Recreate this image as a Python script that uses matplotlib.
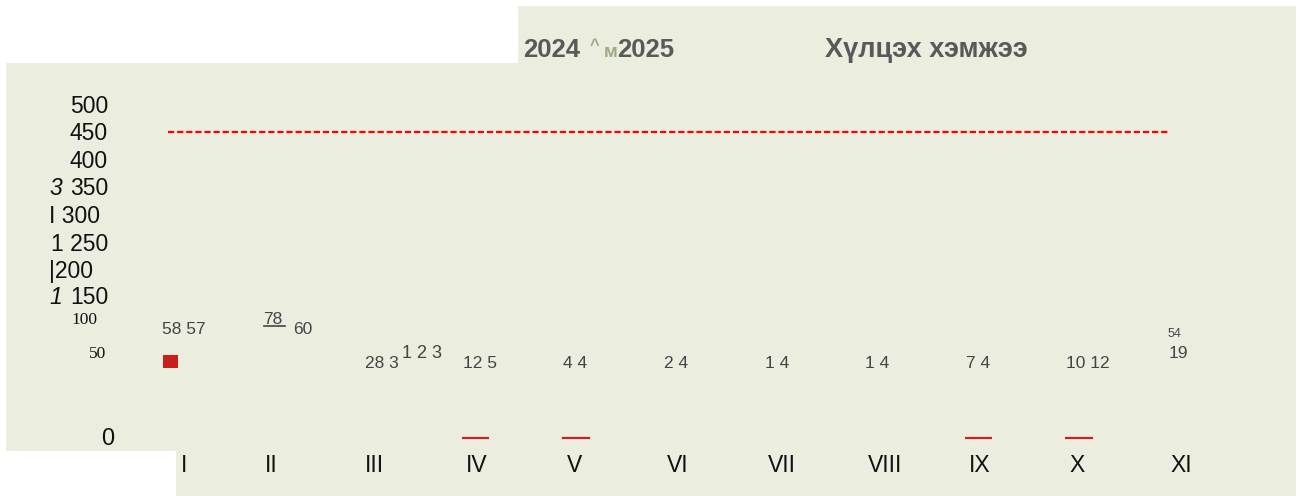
import matplotlib
matplotlib.use("Agg")
import matplotlib.pyplot as plt
from matplotlib.transforms import Affine2D, blended_transform_factory
from matplotlib.patches import Polygon, Rectangle
from matplotlib.lines import Line2D

# ---------------- data ----------------
months = ['I', 'II', 'III', 'IV', 'V', 'VI', 'VII', 'VIII', 'IX', 'X', 'XI']
val_2024 = [58, 78, 28, 12, 4, 2, 1, 1, 7, 10, 54]
val_2025 = [57, 60, 3, 5, 4, 4, 4, 4, 4, 12, 19]
extra_iii = '1 2 3'
threshold = 450
zero_months = [3, 4, 8, 9]          # IV, V, IX, X
title_left = ['2024', '^', 'м', '2025']
title_right = 'Хүлцэх хэмжээ'
ytick_main = ['500', '450', '400', '350', 'I 300', '1 250', '|200', '150']
ytick_prefix = {3: '3', 7: '1'}     # italic prefixes before 350, 150
ytick_small = ['100', '50']
ytick_zero = '0'

# ---------------- layout ----------------
W, H = 1300, 496
BG = '#EBEEDF'
fig = plt.figure(figsize=(W / 100, H / 100), dpi=100)
fig.patch.set_facecolor('white')
SANS = ['Liberation Sans', 'DejaVu Sans']
SERIF = ['Liberation Serif', 'DejaVu Serif']
plt.rcParams['font.family'] = SANS

pix = Affine2D().scale(1 / W, -1 / H).translate(0, 1) + fig.transFigure

# background shape
bg = Polygon([(518, 6), (1296, 6), (1296, 496), (176, 496), (176, 451),
              (6, 451), (6, 63), (518, 63)], closed=True,
             facecolor=BG, edgecolor='none', transform=pix, zorder=-10)
fig.add_artist(bg)

# axes: category index -> pixel 162 + 100.6*i ; value -> 438 - 0.68*v
L, R, T, B = 120, 1290, 90, 460
ax = fig.add_axes([L / W, 1 - B / H, (R - L) / W, (B - T) / H])
ax.set_zorder(5)
ax.set_facecolor('none')
for s in ax.spines.values():
    s.set_visible(False)
ax.set_xticks([])
ax.set_yticks([])
ax.set_xlim((L - 162) / 100.6, (R - 162) / 100.6)
ax.set_ylim((438 - B) / 0.68, (438 - T) / 0.68)

# threshold dashed line
ax.plot([0.06, 10.0], [threshold, threshold], color='#FF0000', lw=1.6,
        dashes=(2.8, 1.3))

# short red marks at zero
for i in zero_months:
    ax.hlines(0, i - 0.02, i + 0.25, color='#CC2020', lw=1.6)

# red square marker near I
fig.add_artist(Rectangle((163, 355), 15, 13, facecolor='#C81E1E',
                         edgecolor='none', transform=pix, zorder=6))

xp = blended_transform_factory(ax.transData, pix)
VC = '#444444'
FS = 12.5

# value labels
for i, m in enumerate(months):
    a, b = val_2024[i], val_2025[i]
    if i == 0:
        ax.text(i, 334, f'{a} {b}', transform=xp, fontsize=FS, color=VC,
                ha='left', va='baseline')
    elif i == 1:
        ax.text(i + 0.01, 324, f'{a}', transform=xp, fontsize=FS, color=VC,
                ha='left', va='baseline')
        ax.text(i + 0.30, 334, f'{b}', transform=xp, fontsize=FS, color=VC,
                ha='left', va='baseline')
    elif i == 2:
        ax.text(i + 0.02, 368, f'{a} {b}', transform=xp, fontsize=FS,
                color=VC, ha='left', va='baseline')
        ax.text(i + 0.39, 358, extra_iii, transform=xp, fontsize=13,
                color=VC, ha='left', va='baseline')
    elif i == len(months) - 1:
        ax.text(i, 337, f'{a}', transform=xp, fontsize=9, color=VC,
                ha='left', va='baseline')
        ax.text(i + 0.01, 358, f'{b}', transform=xp, fontsize=FS, color=VC,
                ha='left', va='baseline')
    else:
        ax.text(i - 0.01, 368, f'{a} {b}', transform=xp, fontsize=FS,
                color=VC, ha='left', va='baseline')
    # month label
    ax.text(i + (0.19 if i == 0 else 0.02), 472, m, transform=xp,
            fontsize=16.5, color='#111111', ha='left', va='baseline')

# underline under 78
fig.add_artist(Line2D([264, 285], [325.5, 325.5], color='#444444', lw=1.2,
                      transform=pix, zorder=6))

# y tick labels (as rendered in the source)
main_base = [113, 140, 168, 195, 223, 251, 278, 304]
main_right = [108, 108, 108, 108, 100, 108, 93, 108]
for k, t in enumerate(ytick_main):
    fig.text(main_right[k], main_base[k], t, transform=pix, fontsize=16.5,
             color='#111111', ha='right', va='baseline')
    if k in ytick_prefix:
        fig.text(49, main_base[k], ytick_prefix[k], transform=pix,
                 fontsize=16.5, style='italic', color='#111111',
                 ha='left', va='baseline')
fig.text(97, 324, ytick_small[0], transform=pix, fontsize=12.5,
         family=SERIF, color='#111111', ha='right', va='baseline')
fig.text(106, 358, ytick_small[1], transform=pix, fontsize=12.5,
         family=SERIF, color='#111111', ha='right', va='baseline')
fig.text(114, 445, ytick_zero, transform=pix, fontsize=17,
         color='#111111', ha='right', va='baseline')

# header texts
TC = '#595959'
OC = '#9DAA88'
fig.text(523, 57, title_left[0], transform=pix, fontsize=18.5,
         weight='bold', color=TC, ha='left', va='baseline')
fig.text(590, 50, title_left[1], transform=pix, fontsize=12,
         weight='bold', color=OC, ha='left', va='baseline')
fig.text(604, 57, title_left[2], transform=pix, fontsize=13.5,
         weight='bold', color=OC, ha='left', va='baseline')
fig.text(617, 57, title_left[3], transform=pix, fontsize=18.5,
         weight='bold', color=TC, ha='left', va='baseline')
fig.text(825, 57, title_right, transform=pix, fontsize=19.5,
         weight='bold', color=TC, ha='left', va='baseline')

fig.savefig('out.png', dpi=100, facecolor='white')
